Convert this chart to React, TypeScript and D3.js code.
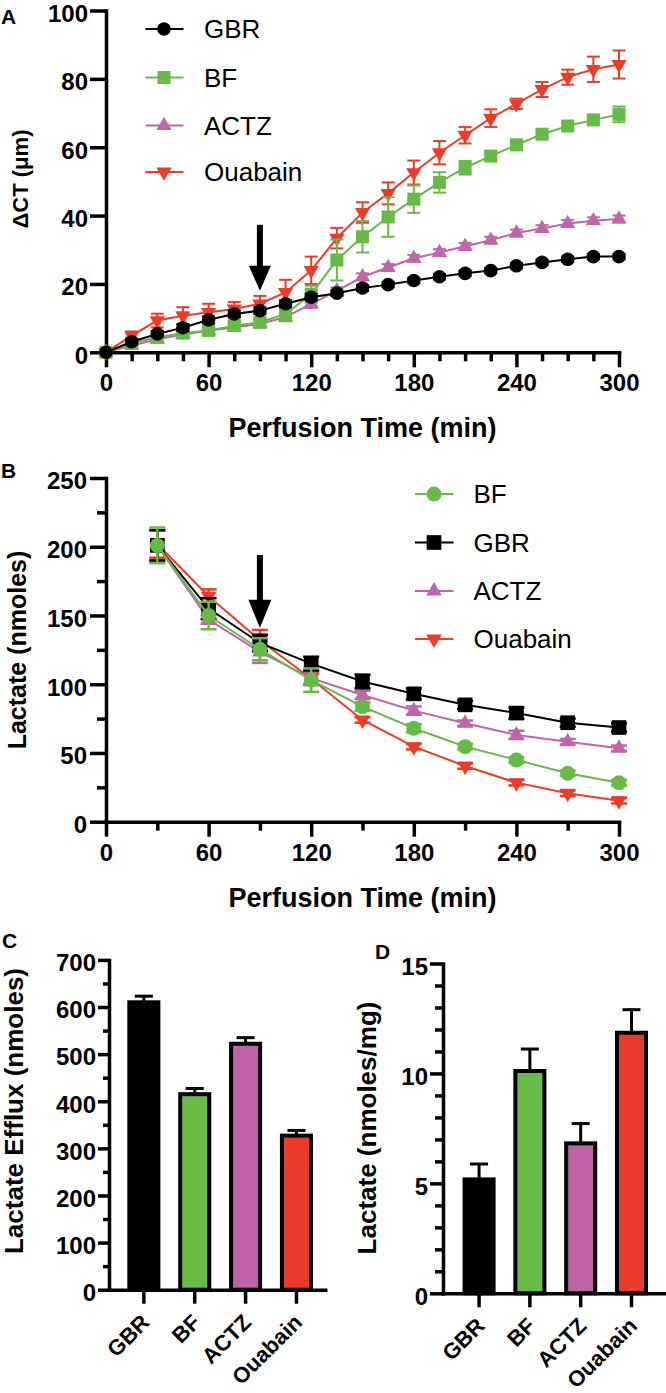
import React, { useEffect, useRef } from 'react';
import * as d3 from 'd3';

const W = 666;
const H = 1393;
const FONT = '"Liberation Sans", Arial, Helvetica, sans-serif';

// ---------- Panel A data (ΔCT, µm) ----------
const TIME_A = [0, 15, 30, 45, 60, 75, 90, 105, 120, 135, 150, 165, 180, 195, 210, 225, 240, 255, 270, 285, 300];
const GBR_A = [0, 3.1, 5.4, 7.2, 9.5, 11.2, 12.2, 14.2, 16.1, 17.3, 18.8, 19.8, 21, 22.1, 23.1, 23.9, 25.3, 26.3, 27.2, 28, 28];
const GBR_A_SEM = [0, 0.8, 0.8, 1, 1, 1, 1, 1, 1, 0.8, 0.8, 0.8, 0.8, 0.8, 0.8, 0.8, 0.8, 0.8, 0.8, 0.8, 0.8];
const BF_A = [0, 2.7, 4.4, 5.6, 6.4, 7.8, 8.8, 11.2, 17, 27, 33.8, 39.6, 44.8, 49.7, 54, 57.4, 60.7, 63.8, 66.2, 68, 69.6];
const BF_A_SEM = [0, 1, 1, 1, 1, 1.2, 1.5, 2, 2.5, 6, 4.6, 5.8, 4, 3, 2, 1, 1, 1, 1, 1.2, 2.3];
const ACTZ_A = [0, 2, 3.8, 5.2, 6.3, 7.3, 8.3, 10.3, 14.2, 18, 22.1, 24.8, 27.5, 29.2, 31, 32.8, 34.9, 36.2, 37.7, 38.5, 39];
const ACTZ_A_SEM = [0, 0.8, 0.8, 0.8, 0.8, 0.8, 1, 1.2, 1.2, 1, 1, 1, 1, 1, 1, 1, 1, 1, 1, 1, 1];
const OUA_A = [0, 4.9, 9.3, 10.7, 11.7, 12.7, 14.2, 17.5, 24, 33.4, 40.9, 46.5, 52.6, 58.4, 63.5, 68.5, 72.7, 76.9, 80.5, 82.8, 84.2];
const OUA_A_SEM = [0, 1.2, 2, 2.5, 2.5, 2, 2.3, 3.7, 4, 3, 3, 3.2, 3.5, 3.4, 2.4, 2.6, 1.5, 2.2, 2.2, 3.7, 4.1];
const A_Y_TICKS = [0, 20, 40, 60, 80, 100];
const ARROW_A = [90, 37.3, 18];

// ---------- Panel B data (lactate, nmoles) ----------
const TIME_B = [30, 60, 90, 120, 150, 180, 210, 240, 270, 300];
const BF_B = [201, 150, 125.5, 103, 83.7, 68, 54.6, 44.9, 35.2, 28.4];
const BF_B_SEM = [13, 10, 8, 8.5, 3, 3, 2, 2, 2, 2];
const GBR_B = [201, 155, 130, 115, 102, 93, 85, 79, 72, 68.5];
const GBR_B_SEM = [11, 7.6, 6, 5, 5, 4, 3, 4, 3, 3];
const ACTZ_B = [201, 147, 123.5, 104.4, 92.2, 80.8, 71.6, 63.1, 58.2, 53.4];
const ACTZ_B_SEM = [11, 3, 8, 5, 3, 3, 2, 3, 2, 2];
const OUA_B = [202, 164, 132, 104, 74, 54.6, 40.5, 28.4, 20.7, 15.3];
const OUA_B_SEM = [10, 5, 7.5, 4, 2, 2, 2, 2, 2, 2];
const B_Y_TICKS = [0, 50, 100, 150, 200, 250];
const X_TICKS = [0, 60, 120, 180, 240, 300];
const ARROW_B = [90, 194, 141];

// ---------- Panels C / D ----------
const GROUPS = ['GBR', 'BF', 'ACTZ', 'Ouabain'];
const EFFLUX = [610, 415, 522, 327];
const EFFLUX_SEM = [13, 12, 13, 11];
const TISSUE = [5.18, 10.11, 6.82, 11.85];
const TISSUE_SEM = [0.7, 1.0, 0.9, 1.05];
const C_Y_TICKS = [0, 100, 200, 300, 400, 500, 600, 700];
const D_Y_TICKS = [0, 5, 10, 15];

const COLORS: Record<string, string> = {
  GBR: '#000000',
  BF: '#66bb46',
  ACTZ: '#c064ab',
  Ouabain: '#ee3a26',
};
const BAR_COLORS: Record<string, string> = {
  GBR: '#000000',
  BF: '#69bc45',
  ACTZ: '#bf63a6',
  Ouabain: '#e93a2b',
};

const AXW = 3.5;

type Sel = d3.Selection<any, any, any, any>;

function styleAxis(g: Sel, fs = 24, left = false) {
  g.select('.domain').attr('stroke', '#000').attr('stroke-width', AXW).attr('stroke-linecap', 'square');
  g.selectAll('.tick line').attr('stroke', '#000').attr('stroke-width', AXW);
  const t = g
    .selectAll('.tick text')
    .attr('fill', '#000')
    .attr('font-size', fs)
    .attr('font-weight', 'bold')
    .attr('font-family', FONT);
  if (left) t.attr('dy', '0.45em');
}

function symbolPath(kind: string, size: number) {
  const t =
    kind === 'circle' ? d3.symbolCircle : kind === 'square' ? d3.symbolSquare : d3.symbolTriangle;
  return d3.symbol().type(t).size(size)() as string;
}

function drawSeries(
  g: Sel,
  x: d3.ScaleLinear<number, number>,
  y: d3.ScaleLinear<number, number>,
  times: number[],
  vals: number[],
  errs: number[],
  color: string,
  kind: string,
  size: number,
  capW: number,
  errW: number
) {
  const pts = times.map((t, i) => ({ t, v: vals[i], e: errs[i] }));
  const line = d3
    .line<{ t: number; v: number }>()
    .x((d) => x(d.t))
    .y((d) => y(d.v));
  g.append('path').attr('d', line(pts) as string).attr('fill', 'none').attr('stroke', color).attr('stroke-width', 2);
  const eb = g.append('g').attr('stroke', color).attr('stroke-width', errW).attr('fill', 'none');
  pts.forEach((p) => {
    if (p.e <= 0) return;
    const cx = x(p.t);
    const y1 = y(p.v + p.e);
    const y2 = y(p.v - p.e);
    eb.append('line').attr('x1', cx).attr('x2', cx).attr('y1', y1).attr('y2', y2);
    eb.append('line').attr('x1', cx - capW / 2).attr('x2', cx + capW / 2).attr('y1', y1).attr('y2', y1);
    eb.append('line').attr('x1', cx - capW / 2).attr('x2', cx + capW / 2).attr('y1', y2).attr('y2', y2);
  });
  const base = kind === 'down' ? 'triangle' : kind;
  const d = symbolPath(base, size);
  pts.forEach((p) => {
    g.append('path')
      .attr('d', d)
      .attr('fill', color)
      .attr('transform', `translate(${x(p.t)},${y(p.v)})${kind === 'down' ? ' rotate(180)' : ''}`);
  });
}

function drawLegend(
  g: Sel,
  items: { name: string; kind: string; size: number }[],
  rows: number[],
  lx0: number,
  lx1: number,
  mx: number,
  tx: number
) {
  items.forEach((it, i) => {
    const yy = rows[i];
    const c = COLORS[it.name];
    g.append('line').attr('x1', lx0).attr('x2', lx1).attr('y1', yy).attr('y2', yy).attr('stroke', c).attr('stroke-width', 2);
    const base = it.kind === 'down' ? 'triangle' : it.kind;
    g.append('path')
      .attr('d', symbolPath(base, it.size))
      .attr('fill', c)
      .attr('transform', `translate(${mx},${yy})${it.kind === 'down' ? ' rotate(180)' : ''}`);
    g.append('text')
      .attr('x', tx)
      .attr('y', yy + 9.3)
      .attr('font-size', 26)
      .attr('font-family', FONT)
      .attr('fill', '#000')
      .text(it.name);
  });
}

function drawArrow(g: Sel, x: number, yTop: number, yTip: number, headW: number, headH: number) {
  g.append('line')
    .attr('x1', x)
    .attr('x2', x)
    .attr('y1', yTop)
    .attr('y2', yTip - headH + 2)
    .attr('stroke', '#000')
    .attr('stroke-width', 6);
  g.append('path')
    .attr('d', `M${x - headW / 2},${yTip - headH} L${x + headW / 2},${yTip - headH} L${x},${yTip} Z`)
    .attr('fill', '#000');
}

function panelLetter(svg: Sel, x: number, y: number, t: string) {
  svg
    .append('text')
    .attr('x', x)
    .attr('y', y)
    .attr('font-size', 21)
    .attr('font-weight', 'bold')
    .attr('font-family', FONT)
    .text(t);
}

function yTitle(svg: Sel, x: number, y: number, t: string, fs = 25) {
  svg
    .append('text')
    .attr('transform', `translate(${x},${y}) rotate(-90)`)
    .attr('text-anchor', 'middle')
    .attr('font-size', fs)
    .attr('font-weight', 'bold')
    .attr('font-family', FONT)
    .text(t);
}

function xTitle(svg: Sel, x: number, y: number, t: string) {
  svg
    .append('text')
    .attr('x', x)
    .attr('y', y)
    .attr('text-anchor', 'middle')
    .attr('font-size', 27)
    .attr('font-weight', 'bold')
    .attr('font-family', FONT)
    .text(t);
}

function drawA(svg: Sel) {
  const x = d3.scaleLinear().domain([0, 300]).range([106, 619]);
  const y = d3.scaleLinear().domain([0, 100]).range([352.3, 10.5]);
  const g = svg.append('g');

  const gxMinor = g.append('g').attr('transform', `translate(0,${y(0)})`);
  gxMinor.call(
    d3.axisBottom(x).tickValues(TIME_A.filter((t) => t % 60 !== 0)).tickSize(9).tickSizeOuter(0).tickFormat(() => '')
  );
  gxMinor.select('.domain').remove();
  styleAxis(gxMinor);
  const gx = g.append('g').attr('transform', `translate(0,${y(0)})`);
  gx.call(d3.axisBottom(x).tickValues(X_TICKS).tickSize(15).tickPadding(7).tickSizeOuter(0));
  styleAxis(gx);
  const gy = g.append('g').attr('transform', `translate(${x(0)},0)`);
  gy.call(d3.axisLeft(y).tickValues(A_Y_TICKS).tickSize(16).tickPadding(2).tickSizeOuter(0));
  styleAxis(gy, 24, true);

  drawArrow(g, x(ARROW_A[0]), y(ARROW_A[1]), y(ARROW_A[2]), 22, 25);

  const series = [
    { name: 'Ouabain', v: OUA_A, e: OUA_A_SEM, kind: 'down', size: 100 },
    { name: 'ACTZ', v: ACTZ_A, e: ACTZ_A_SEM, kind: 'triangle', size: 100 },
    { name: 'BF', v: BF_A, e: BF_A_SEM, kind: 'square', size: 170 },
    { name: 'GBR', v: GBR_A, e: GBR_A_SEM, kind: 'circle', size: 145 },
  ];
  series.forEach((s) => drawSeries(g, x, y, TIME_A, s.v, s.e, COLORS[s.name], s.kind, s.size, 13, 2));

  drawLegend(
    g,
    [
      { name: 'GBR', kind: 'circle', size: 145 },
      { name: 'BF', kind: 'square', size: 170 },
      { name: 'ACTZ', kind: 'triangle', size: 100 },
      { name: 'Ouabain', kind: 'down', size: 100 },
    ],
    [29, 77.5, 125.5, 172],
    145.5,
    183.5,
    164,
    204
  );

  panelLetter(svg, 1, 24, 'A');
  yTitle(svg, 28, 179, 'ΔCT (μm)', 22);
  xTitle(svg, 362.5, 437, 'Perfusion Time (min)');
}

function drawB(svg: Sel) {
  const x = d3.scaleLinear().domain([0, 300]).range([106, 619]);
  const y = d3.scaleLinear().domain([0, 250]).range([821.7, 478]);
  const g = svg.append('g');

  const gxMinor = g.append('g').attr('transform', `translate(0,${y(0)})`);
  gxMinor.call(d3.axisBottom(x).tickValues([30, 90, 150, 210, 270]).tickSize(9).tickSizeOuter(0).tickFormat(() => ''));
  gxMinor.select('.domain').remove();
  styleAxis(gxMinor);
  const gx = g.append('g').attr('transform', `translate(0,${y(0)})`);
  gx.call(d3.axisBottom(x).tickValues(X_TICKS).tickSize(15).tickPadding(7).tickSizeOuter(0));
  styleAxis(gx);

  const gyMinor = g.append('g').attr('transform', `translate(${x(0)},0)`);
  gyMinor.call(d3.axisLeft(y).tickValues([25, 75, 125, 175, 225]).tickSize(9).tickSizeOuter(0).tickFormat(() => ''));
  gyMinor.select('.domain').remove();
  styleAxis(gyMinor);
  const gy = g.append('g').attr('transform', `translate(${x(0)},0)`);
  gy.call(d3.axisLeft(y).tickValues(B_Y_TICKS).tickSize(16).tickPadding(3).tickSizeOuter(0));
  styleAxis(gy, 24, true);

  drawArrow(g, x(ARROW_B[0]), y(ARROW_B[1]), y(ARROW_B[2]), 23, 28);

  const series = [
    { name: 'Ouabain', v: OUA_B, e: OUA_B_SEM, kind: 'down', size: 105 },
    { name: 'ACTZ', v: ACTZ_B, e: ACTZ_B_SEM, kind: 'triangle', size: 105 },
    { name: 'GBR', v: GBR_B, e: GBR_B_SEM, kind: 'square', size: 215 },
    { name: 'BF', v: BF_B, e: BF_B_SEM, kind: 'circle', size: 175 },
  ];
  series.forEach((s) => drawSeries(g, x, y, TIME_B, s.v, s.e, COLORS[s.name], s.kind, s.size, 16, 2.5));

  drawLegend(
    g,
    [
      { name: 'BF', kind: 'circle', size: 175 },
      { name: 'GBR', kind: 'square', size: 215 },
      { name: 'ACTZ', kind: 'triangle', size: 105 },
      { name: 'Ouabain', kind: 'down', size: 105 },
    ],
    [494, 542.5, 591, 639],
    415,
    453.5,
    434,
    473.5
  );

  panelLetter(svg, 1, 478, 'B');
  yTitle(svg, 26, 650, 'Lactate (nmoles)');
  xTitle(svg, 362.5, 907, 'Perfusion Time (min)');
}

function drawBars(
  svg: Sel,
  vals: number[],
  errs: number[],
  yDomain: [number, number],
  yRange: [number, number],
  xRange: [number, number],
  align: number,
  paddingOuter: number,
  majors: number[],
  minors: number[],
  majorSize: number,
  minorSize: number
) {
  const g = svg.append('g');
  const x = d3.scaleBand<string>().domain(GROUPS).range(xRange).paddingInner(0.35).paddingOuter(paddingOuter).align(align);
  const y = d3.scaleLinear().domain(yDomain).range(yRange);
  const bw = x.bandwidth();

  GROUPS.forEach((grp, i) => {
    const x0 = x(grp) as number;
    const cx = x0 + bw / 2;
    const yv = y(vals[i]);
    const ye = y(vals[i] + errs[i]);
    g.append('line').attr('x1', cx).attr('x2', cx).attr('y1', yv).attr('y2', ye).attr('stroke', '#000').attr('stroke-width', 3);
    g.append('line')
      .attr('x1', cx - 9)
      .attr('x2', cx + 9)
      .attr('y1', ye)
      .attr('y2', ye)
      .attr('stroke', '#000')
      .attr('stroke-width', 3);
    g.append('rect')
      .attr('x', x0 + 2)
      .attr('y', yv)
      .attr('width', bw - 4)
      .attr('height', y(0) - yv)
      .attr('fill', BAR_COLORS[grp])
      .attr('stroke', '#000')
      .attr('stroke-width', 4);
  });

  const gyMinor = g.append('g').attr('transform', `translate(${xRange[0]},0)`);
  gyMinor.call(d3.axisLeft(y).tickValues(minors).tickSize(minorSize).tickSizeOuter(0).tickFormat(() => ''));
  gyMinor.select('.domain').remove();
  styleAxis(gyMinor);
  const gy = g.append('g').attr('transform', `translate(${xRange[0]},0)`);
  gy.call(d3.axisLeft(y).tickValues(majors).tickSize(majorSize).tickPadding(2).tickSizeOuter(0));
  styleAxis(gy, 24, true);

  const gx = g.append('g').attr('transform', `translate(0,${y(0)})`);
  gx.call(
    d3
      .axisBottom(x)
      .tickSize(14)
      .tickSizeOuter(0)
      .tickFormat(() => '')
  );
  styleAxis(gx);

  GROUPS.forEach((grp) => {
    const cx = (x(grp) as number) + bw / 2;
    g.append('text')
      .attr('transform', `translate(${cx + 7},${y(0) + 34}) rotate(-45)`)
      .attr('text-anchor', 'end')
      .attr('font-size', 22)
      .attr('font-weight', 'bold')
      .attr('font-family', FONT)
      .text(grp);
  });
}

function drawC(svg: Sel) {
  const minors = d3.range(50, 700, 100);
  drawBars(svg, EFFLUX, EFFLUX_SEM, [0, 700], [1289.7, 959.9], [109, 325.2], 0.6, 0.3, C_Y_TICKS, minors, 11, 6);
  panelLetter(svg, 2, 947.5, 'C');
  yTitle(svg, 23, 1111, 'Lactate Efflux (nmoles)', 26);
}

function drawD(svg: Sel) {
  const minors = d3.range(1, 15).filter((v) => v % 5 !== 0);
  drawBars(svg, TISSUE, TISSUE_SEM, [0, 15], [1293.3, 963.5], [443, 664], 0.55, 0.35, D_Y_TICKS, minors, 13, 8);
  panelLetter(svg, 375, 959, 'D');
  yTitle(svg, 376, 1128, 'Lactate (nmoles/mg)', 26);
}

export default function App() {
  const ref = useRef<SVGSVGElement>(null);
  useEffect(() => {
    const svg = d3.select(ref.current);
    svg.selectAll('*').remove();
    svg.append('rect').attr('width', W).attr('height', H).attr('fill', '#fff');
    drawA(svg);
    drawB(svg);
    drawC(svg);
    drawD(svg);
  }, []);
  return (
    <svg
      ref={ref}
      width={W}
      height={H}
      viewBox={`0 0 ${W} ${H}`}
      style={{ position: 'absolute', left: 0, top: 0, display: 'block' }}
    />
  );
}
